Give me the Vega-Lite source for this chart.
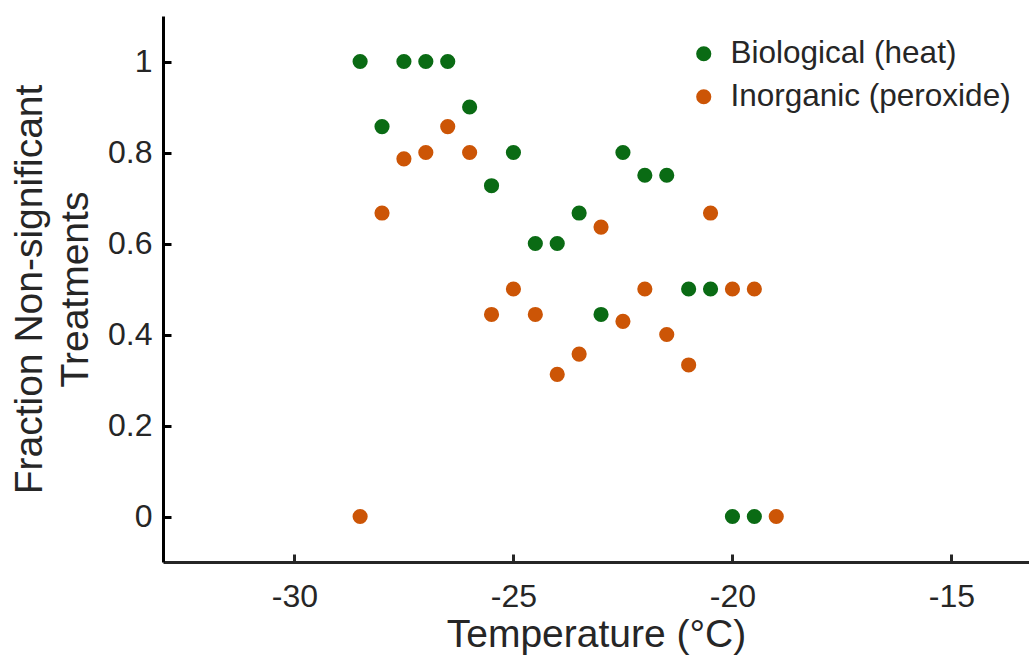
{
  "$schema": "https://vega.github.io/schema/vega-lite/v6.json",
  "autosize": "none",
  "width": 866,
  "height": 546,
  "padding": {"left": 163, "top": 16, "right": 0, "bottom": 103},
  "background": "white",
  "config": {
    "font": "Liberation Sans",
    "view": {"stroke": null}
  },
  "data": {
    "values": [
      {"temp": -28.5, "frac": 1.0, "treatment": "Biological (heat)"},
      {"temp": -28.0, "frac": 0.857, "treatment": "Biological (heat)"},
      {"temp": -27.5, "frac": 1.0, "treatment": "Biological (heat)"},
      {"temp": -27.0, "frac": 1.0, "treatment": "Biological (heat)"},
      {"temp": -26.5, "frac": 1.0, "treatment": "Biological (heat)"},
      {"temp": -26.0, "frac": 0.9, "treatment": "Biological (heat)"},
      {"temp": -25.5, "frac": 0.727, "treatment": "Biological (heat)"},
      {"temp": -25.0, "frac": 0.8, "treatment": "Biological (heat)"},
      {"temp": -24.5, "frac": 0.6, "treatment": "Biological (heat)"},
      {"temp": -24.0, "frac": 0.6, "treatment": "Biological (heat)"},
      {"temp": -23.5, "frac": 0.667, "treatment": "Biological (heat)"},
      {"temp": -23.0, "frac": 0.444, "treatment": "Biological (heat)"},
      {"temp": -22.5, "frac": 0.8, "treatment": "Biological (heat)"},
      {"temp": -22.0, "frac": 0.75, "treatment": "Biological (heat)"},
      {"temp": -21.5, "frac": 0.75, "treatment": "Biological (heat)"},
      {"temp": -21.0, "frac": 0.5, "treatment": "Biological (heat)"},
      {"temp": -20.5, "frac": 0.5, "treatment": "Biological (heat)"},
      {"temp": -20.0, "frac": 0.0, "treatment": "Biological (heat)"},
      {"temp": -19.5, "frac": 0.0, "treatment": "Biological (heat)"},
      {"temp": -28.5, "frac": 0.0, "treatment": "Inorganic (peroxide)"},
      {"temp": -28.0, "frac": 0.667, "treatment": "Inorganic (peroxide)"},
      {"temp": -27.5, "frac": 0.786, "treatment": "Inorganic (peroxide)"},
      {"temp": -27.0, "frac": 0.8, "treatment": "Inorganic (peroxide)"},
      {"temp": -26.5, "frac": 0.857, "treatment": "Inorganic (peroxide)"},
      {"temp": -26.0, "frac": 0.8, "treatment": "Inorganic (peroxide)"},
      {"temp": -25.5, "frac": 0.444, "treatment": "Inorganic (peroxide)"},
      {"temp": -25.0, "frac": 0.5, "treatment": "Inorganic (peroxide)"},
      {"temp": -24.5, "frac": 0.444, "treatment": "Inorganic (peroxide)"},
      {"temp": -24.0, "frac": 0.3125, "treatment": "Inorganic (peroxide)"},
      {"temp": -23.5, "frac": 0.357, "treatment": "Inorganic (peroxide)"},
      {"temp": -23.0, "frac": 0.636, "treatment": "Inorganic (peroxide)"},
      {"temp": -22.5, "frac": 0.429, "treatment": "Inorganic (peroxide)"},
      {"temp": -22.0, "frac": 0.5, "treatment": "Inorganic (peroxide)"},
      {"temp": -21.5, "frac": 0.4, "treatment": "Inorganic (peroxide)"},
      {"temp": -21.0, "frac": 0.333, "treatment": "Inorganic (peroxide)"},
      {"temp": -20.5, "frac": 0.667, "treatment": "Inorganic (peroxide)"},
      {"temp": -20.0, "frac": 0.5, "treatment": "Inorganic (peroxide)"},
      {"temp": -19.5, "frac": 0.5, "treatment": "Inorganic (peroxide)"},
      {"temp": -19.0, "frac": 0.0, "treatment": "Inorganic (peroxide)"}
    ]
  },
  "mark": {"type": "circle", "size": 230, "opacity": 1},
  "encoding": {
    "x": {
      "field": "temp",
      "type": "quantitative",
      "scale": {"domain": [-33, -13.23], "nice": false, "zero": false},
      "axis": {
        "title": "Temperature (°C)",
        "titleFontSize": 39,
        "titleFontWeight": "normal",
        "titleColor": "#262626",
        "titlePadding": 3,
        "values": [-30, -25, -20, -15],
        "labelExpr": "toString(datum.value)",
        "labelFontSize": 32,
        "labelColor": "#262626",
        "labelPadding": 27,
        "domainColor": "#262626",
        "domainWidth": 3,
        "tickColor": "#262626",
        "tickWidth": 3,
        "tickSize": -8,
        "grid": false
      }
    },
    "y": {
      "field": "frac",
      "type": "quantitative",
      "scale": {"domain": [-0.1, 1.1], "nice": false, "zero": false},
      "axis": {
        "title": ["Fraction Non-significant", "Treatments"],
        "titleFontSize": 39,
        "titleFontWeight": "normal",
        "titleColor": "#262626",
        "titleLineHeight": 46,
        "titlePadding": 12,
        "values": [0, 0.2, 0.4, 0.6, 0.8, 1],
        "format": "~g",
        "labelFontSize": 32,
        "labelColor": "#262626",
        "labelPadding": 19,
        "domainColor": "#000000",
        "domainWidth": 3,
        "tickColor": "#000000",
        "tickWidth": 3,
        "tickSize": -8,
        "grid": false
      }
    },
    "color": {
      "field": "treatment",
      "type": "nominal",
      "scale": {
        "domain": ["Biological (heat)", "Inorganic (peroxide)"],
        "range": ["#0a6b14", "#cc5506"]
      },
      "legend": {
        "title": null,
        "orient": "none",
        "legendX": 525,
        "legendY": 22,
        "labelFontSize": 31.5,
        "labelColor": "#262626",
        "labelLimit": 400,
        "symbolSize": 230,
        "symbolType": "circle",
        "rowPadding": 10,
        "labelOffset": 11,
        "padding": 0
      }
    }
  }
}
